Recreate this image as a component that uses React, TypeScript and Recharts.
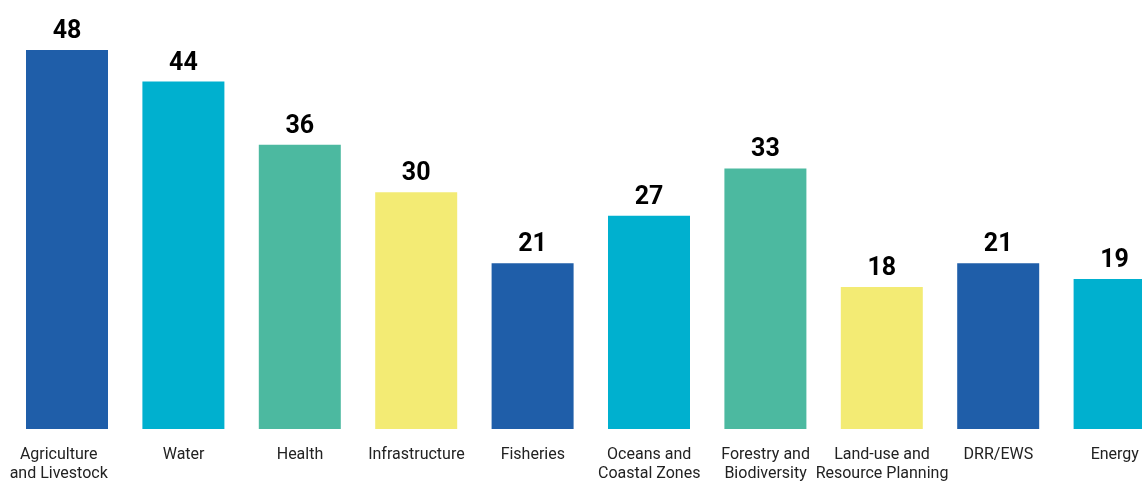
import React from "react";
import { BarChart, Bar, XAxis, YAxis, Cell, LabelList } from "recharts";

const categories = [
  "Agriculture and Livestock",
  "Water",
  "Health",
  "Infrastructure",
  "Fisheries",
  "Oceans and Coastal Zones",
  "Forestry and Biodiversity",
  "Land-use and Resource Planning",
  "DRR/EWS",
  "Energy",
];

const tickLines: Record<string, string[]> = {
  "Agriculture and Livestock": ["Agriculture", "and Livestock"],
  "Oceans and Coastal Zones": ["Oceans and", "Coastal Zones"],
  "Forestry and Biodiversity": ["Forestry and", "Biodiversity"],
  "Land-use and Resource Planning": ["Land-use and", "Resource Planning"],
};

const counts = [48, 44, 36, 30, 21, 27, 33, 18, 21, 19];

const COLORS = ["#1f5ea9", "#00b0cf", "#4cb9a0", "#f3eb74"];

const data = categories.map((name, i) => ({ name, value: counts[i] }));

function CategoryTick(props: any) {
  const { y, payload, index } = props;
  // first label is pushed in a bit so it doesn't hang off the left edge
  const x = index === 0 ? props.x - 8.5 : props.x;
  const lines = tickLines[payload.value] || [payload.value];
  return (
    <text x={x} y={y} textAnchor="middle" fill="#222" fontSize={16} fontFamily="Roboto">
      {lines.map((line, i) => (
        <tspan key={i} x={x} dy={i === 0 ? 22 : 19}>
          {line}
        </tspan>
      ))}
    </text>
  );
}

export default function App() {
  return (
    <div style={{ position: "fixed", left: 0, top: 0, width: 1142, height: 481, overflow: "hidden" }}>
      <BarChart
        width={1142}
        height={481}
        data={data}
        margin={{ top: 50, right: -31, bottom: 0, left: 9 }}
      >
        <XAxis
          dataKey="name"
          axisLine={false}
          tickLine={false}
          interval={0}
          height={52}
          tick={<CategoryTick />}
        />
        <YAxis hide domain={[0, 48]} />
        <Bar dataKey="value" barSize={82} isAnimationActive={false}>
          {data.map((entry, index) => (
            <Cell key={`cell-${index}`} fill={COLORS[index % COLORS.length]} />
          ))}
          <LabelList
            dataKey="value"
            position="top"
            offset={12}
            fill="#000"
            fontSize={25}
            fontWeight="bold"
            fontFamily="Roboto"
          />
        </Bar>
      </BarChart>
    </div>
  );
}
